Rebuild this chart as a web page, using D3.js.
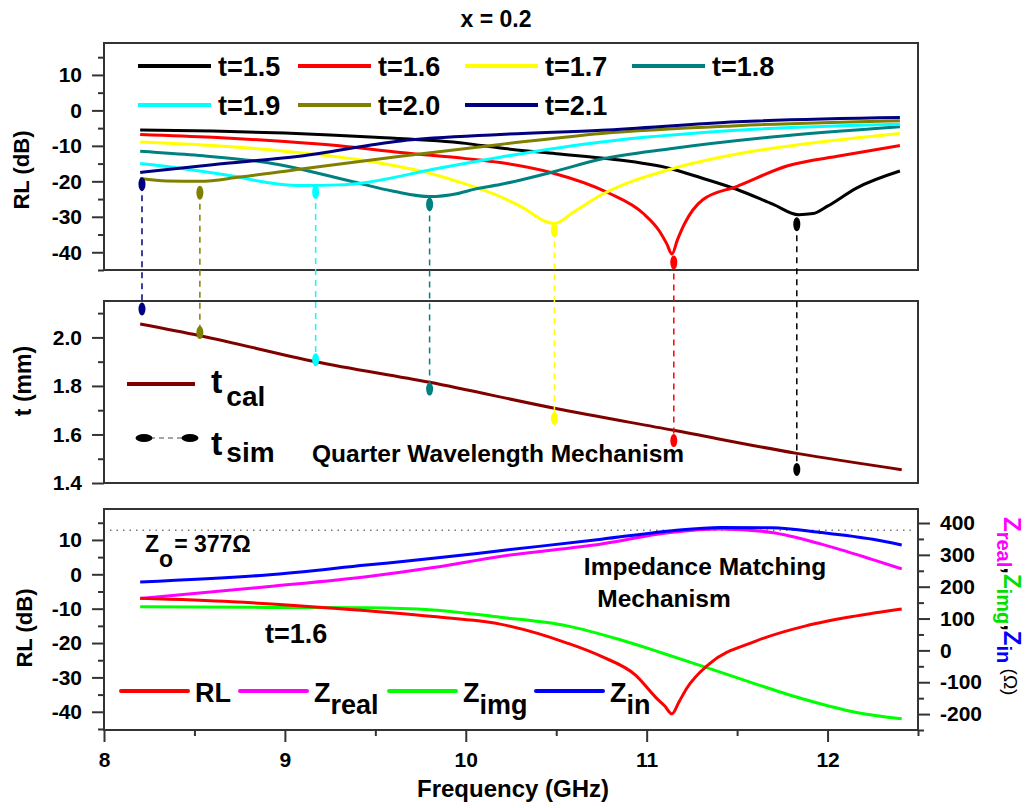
<!doctype html>
<html>
<head>
<meta charset="utf-8">
<script src="https://cdn.jsdelivr.net/npm/d3@7"></script>
<style>
  body { margin: 0; background: #fff; }
  svg text { font-family: Arial, "Liberation Sans", sans-serif; font-weight: bold; fill: #000; }
</style>
</head>
<body>
<svg id="chart" width="1030" height="808"></svg>
<script>

// ---------- data ----------
var thickLabels = ["t=1.5", "t=1.6", "t=1.7", "t=1.8", "t=1.9", "t=2.0", "t=2.1"];
var thickColors = ["#000000", "#ff0000", "#ffff00", "#008080", "#00ffff", "#808000", "#000080"];

// RL (dB) vs frequency (GHz) for each thickness
var rl15 = [[8.2,-5.5],[8.6,-5.8],[9,-6.4],[9.5,-7.6],[10,-9.3],[10.19,-10.6],[10.5,-12.2],[10.8,-13.7],
            [11.13,-16.4],[11.3,-19],[11.5,-22.3],[11.7,-26.5],[11.84,-29.4],[11.92,-29.1],[12,-27],[12.16,-21.9],[12.4,-17.1]];
var rl16 = [[8.2,-6.8],[8.6,-7.6],[9,-8.8],[9.3,-10],[9.64,-11.9],[10,-13.6],[10.19,-14.7],[10.47,-17.5],[10.79,-23.3],
            [10.98,-29],[11.07,-34],[11.11,-37.5],[11.14,-40.5],[11.17,-36.5],[11.21,-31.9],[11.31,-25.2],[11.5,-21.4],
            [11.78,-15.6],[12.07,-12.8],[12.4,-9.9]];
var rl17 = [[8.2,-8.9],[8.6,-9.9],[9,-11.5],[9.45,-14.2],[9.82,-18],[10,-20.8],[10.19,-24.3],[10.3,-27],[10.49,-31.9],
            [10.6,-28.5],[10.75,-23.8],[11.13,-16.6],[11.5,-12.3],[11.88,-9.4],[12.4,-6.5]];
var rl18 = [[8.2,-11.5],[8.5,-12.6],[8.9,-14.7],[9.36,-19.9],[9.6,-22.8],[9.8,-24.3],[9.95,-23.5],[10.05,-22.2],
            [10.19,-20.9],[10.47,-17.5],[10.75,-13.7],[11.13,-10.8],[11.69,-7.5],[12.4,-4.6]];
var rl19 = [[8.2,-15],[8.45,-16.5],[8.71,-18.5],[8.9,-20.3],[9.1,-21.2],[9.3,-21],[9.45,-20.3],[9.82,-16.6],
            [10.19,-13.2],[10.75,-8.9],[11.5,-5.6],[12.4,-3.9]];
var rl20 = [[8.2,-19.2],[8.35,-19.9],[8.53,-20],[8.75,-18.8],[9.08,-16.6],[9.64,-12.9],[10.19,-9.6],[10.75,-6.5],
            [11.5,-4.3],[12.4,-2.9]];
var rl21 = [[8.2,-17.5],[8.6,-15.3],[9.08,-12.9],[9.64,-8.6],[10.19,-6.8],[10.75,-5.6],[11.5,-3.2],[12.4,-2.0]];
var rlCurves = [rl15, rl16, rl17, rl18, rl19, rl20, rl21];

// dips (simulated matching thickness)
var dipFreq = [11.83, 11.15, 10.49, 9.80, 9.17, 8.53, 8.21];
var dipRL   = [-32.1, -42.9, -33.8, -26.5, -23.0, -23.2, -20.8];
var tSim    = [1.456, 1.575, 1.666, 1.787, 1.908, 2.02, 2.117];

// quarter wavelength thickness
var tCal = [[8.2,2.055],[8.53,2.007],[9.17,1.90],[9.80,1.815],[10.49,1.708],[11.15,1.617],[11.83,1.522],[12.41,1.455]];

// impedance matching, t = 1.6
var rlMatch = [[8.2,-7],[8.71,-8],[9.27,-9.9],[9.82,-12.3],[10.19,-14.5],[10.56,-20],[10.75,-23.9],[10.94,-29.4],
               [11.05,-35.8],[11.1,-38.3],[11.14,-40.6],[11.18,-37],[11.22,-33.3],[11.35,-25.9],[11.6,-19.5],
               [11.88,-15],[12.16,-12.1],[12.41,-10.1]];
var zReal = [[8.2,163],[8.9,200],[9.45,231],[9.82,260],[10.19,295],[10.75,334],[11.13,370],[11.41,381],[11.69,370],
             [11.97,333],[12.25,285],[12.41,256]];
var zImg  = [[8.2,137],[8.9,135],[9.45,134],[9.82,127],[10.19,104],[10.56,77],[10.85,34],[11.09,-9],[11.32,-52],
             [11.6,-105],[11.88,-155],[12.16,-195],[12.41,-215]];
var zIn   = [[8.2,215],[8.9,237],[9.45,268],[9.82,289],[10.19,313],[10.75,349],[11.13,375],[11.41,386],[11.69,385],
             [11.97,370],[12.25,349],[12.41,331]];
var z0 = 377;

var freqTicks = [8, 9, 10, 11, 12];
var rlTicks = [-40, -30, -20, -10, 0, 10];
var tTicks = [1.4, 1.6, 1.8, 2.0];
var zTicks = [-200, -100, 0, 100, 200, 300, 400];

// ---------- layout ----------
var svg = d3.select("#chart");
var L = 104, R = 918;

var x = d3.scaleLinear().domain([8, 12.5]).range([L, R]);
var yTop = d3.scaleLinear().domain([-45, 19]).range([270, 43]);
var yMid = d3.scaleLinear().domain([1.4, 2.15]).range([483, 301]);
var yBot = d3.scaleLinear().domain([-45.3, 19]).range([730, 509]);
var yImp = d3.scaleLinear().domain([-250, 444]).range([730, 509]);

function frame(y0, y1) {
  svg.append("rect").attr("x", L).attr("y", y0).attr("width", R - L).attr("height", y1 - y0)
    .attr("fill", "none").attr("stroke", "#333").attr("stroke-width", 2);
}

function styleAxis(g, size) {
  g.select(".domain").remove();
  g.selectAll("line").attr("stroke", "#333").attr("stroke-width", 2);
  g.selectAll("text").attr("font-size", size).attr("font-family", null);
}

function vAxis(axisFn, scale, xPos, majors, fmt) {
  var step = majors[1] - majors[0];
  var d = scale.domain();
  var minors = d3.range(majors[0] - step / 2, d[1] + 1e-9, step).filter(v => v >= d[0] - 1e-9);
  var gm = svg.append("g").attr("transform", "translate(" + xPos + ",0)")
    .call(axisFn(scale).tickValues(minors).tickSize(6).tickFormat(""));
  styleAxis(gm, 21);
  var g = svg.append("g").attr("transform", "translate(" + xPos + ",0)")
    .call(axisFn(scale).tickValues(majors).tickSize(12).tickPadding(10).tickFormat(fmt));
  styleAxis(g, 21);
}

var plain = d => String(d);

// ---------- top panel: RL vs frequency ----------
frame(43, 270);
vAxis(d3.axisLeft, yTop, L, rlTicks, plain);

var lineTop = d3.line().x(d => x(d[0])).y(d => yTop(d[1])).curve(d3.curveMonotoneX);
rlCurves.forEach(function (c, i) {
  svg.append("path").attr("d", lineTop(c)).attr("fill", "none")
    .attr("stroke", thickColors[i]).attr("stroke-width", 3);
});

// top legend
thickLabels.forEach(function (lab, i) {
  var cols = [138, 298, 465, 632], rows = [66, 105];
  var lx = cols[i % 4], ly = rows[Math.floor(i / 4)];
  svg.append("line").attr("x1", lx).attr("x2", lx + 73).attr("y1", ly).attr("y2", ly)
    .attr("stroke", thickColors[i]).attr("stroke-width", 4);
  svg.append("text").attr("x", lx + 80).attr("y", ly + 10).attr("font-size", 27).text(lab);
});

svg.append("text").attr("x", 496).attr("y", 27).attr("text-anchor", "middle")
  .attr("font-size", 23).text("x = 0.2");

svg.append("text").attr("transform", "translate(29,170) rotate(-90)").attr("text-anchor", "middle")
  .attr("font-size", 22).text("RL (dB)");

// ---------- middle panel: thickness ----------
frame(301, 483);
vAxis(d3.axisLeft, yMid, L, tTicks, d => d.toFixed(1));

var lineMid = d3.line().x(d => x(d[0])).y(d => yMid(d[1])).curve(d3.curveMonotoneX);
svg.append("path").attr("d", lineMid(tCal)).attr("fill", "none")
  .attr("stroke", "#800000").attr("stroke-width", 3);

// dashed drop lines and markers
dipFreq.forEach(function (f, i) {
  var c = thickColors[i];
  svg.append("line").attr("x1", x(f)).attr("x2", x(f))
    .attr("y1", yTop(dipRL[i])).attr("y2", yMid(tSim[i]))
    .attr("stroke", c).attr("stroke-width", 1.5).attr("stroke-dasharray", "6,5");
  svg.append("ellipse").attr("cx", x(f)).attr("cy", yTop(dipRL[i])).attr("rx", 3.5).attr("ry", 7).attr("fill", c);
  svg.append("ellipse").attr("cx", x(f)).attr("cy", yMid(tSim[i])).attr("rx", 3.5).attr("ry", 6.5).attr("fill", c);
});

// middle legend
svg.append("line").attr("x1", 127).attr("x2", 195).attr("y1", 384).attr("y2", 384)
  .attr("stroke", "#800000").attr("stroke-width", 4);
var tc = svg.append("text").attr("x", 211).attr("y", 393).attr("font-size", 34);
tc.append("tspan").text("t");
tc.append("tspan").attr("dx", 4).attr("dy", 13).attr("font-size", 28).text("cal");

svg.append("line").attr("x1", 150).attr("x2", 184).attr("y1", 438).attr("y2", 438)
  .attr("stroke", "#888").attr("stroke-width", 1.5).attr("stroke-dasharray", "5,4");
[144, 190].forEach(function (mx) {
  svg.append("ellipse").attr("cx", mx).attr("cy", 438).attr("rx", 8.5).attr("ry", 4).attr("fill", "#000");
});
var ts = svg.append("text").attr("x", 211).attr("y", 455).attr("font-size", 34);
ts.append("tspan").text("t");
ts.append("tspan").attr("dx", 4).attr("dy", 7).attr("font-size", 28).text("sim");

svg.append("text").attr("x", 312).attr("y", 462).attr("font-size", 24.5).text("Quarter Wavelength Mechanism");

svg.append("text").attr("transform", "translate(31,381) rotate(-90)").attr("text-anchor", "middle")
  .attr("font-size", 23).text("t (mm)");

// ---------- bottom panel: impedance matching ----------
frame(509, 730);
vAxis(d3.axisLeft, yBot, L, rlTicks, plain);
vAxis(d3.axisRight, yImp, R, zTicks, plain);

var xMinor = d3.range(8.5, 12.51, 1);
var gxm = svg.append("g").attr("transform", "translate(0,730)")
  .call(d3.axisBottom(x).tickValues(xMinor).tickSize(6).tickFormat(""));
styleAxis(gxm, 21);
var gx = svg.append("g").attr("transform", "translate(0,730)")
  .call(d3.axisBottom(x).tickValues(freqTicks).tickSize(12).tickPadding(10).tickFormat(plain));
styleAxis(gx, 21);

svg.append("line").attr("x1", L + 6).attr("x2", R - 2).attr("y1", yImp(z0)).attr("y2", yImp(z0))
  .attr("stroke", "#777").attr("stroke-width", 1.5).attr("stroke-dasharray", "1.5,5");

var lineRL = d3.line().x(d => x(d[0])).y(d => yBot(d[1])).curve(d3.curveMonotoneX);
var lineZ = d3.line().x(d => x(d[0])).y(d => yImp(d[1])).curve(d3.curveMonotoneX);
var botSeries = [
  { data: zImg, gen: lineZ, color: "#00ff00" },
  { data: zReal, gen: lineZ, color: "#ff00ff" },
  { data: zIn, gen: lineZ, color: "#0000ff" },
  { data: rlMatch, gen: lineRL, color: "#ff0000" }
];
botSeries.forEach(function (s) {
  svg.append("path").attr("d", s.gen(s.data)).attr("fill", "none")
    .attr("stroke", s.color).attr("stroke-width", 3);
});

// Z0 label
var zo = svg.append("text").attr("x", 145).attr("y", 552).attr("font-size", 23);
zo.append("tspan").text("Z");
zo.append("tspan").attr("dy", 15).text("o");
zo.append("tspan").attr("dy", -15).attr("dx", 1).text("= 377\u03A9");

svg.append("text").attr("x", 265).attr("y", 643).attr("font-size", 27).text("t=1.6");

svg.append("text").attr("x", 705).attr("y", 575).attr("text-anchor", "middle").attr("font-size", 24.5)
  .text("Impedance Matching");
svg.append("text").attr("x", 664).attr("y", 607).attr("text-anchor", "middle").attr("font-size", 24.5)
  .text("Mechanism");

// bottom legend
var legItems = [
  { main: "RL", sub: "", color: "#ff0000", lx: 121 },
  { main: "Z", sub: "real", color: "#ff00ff", lx: 240 },
  { main: "Z", sub: "img", color: "#00ff00", lx: 389 },
  { main: "Z", sub: "in", color: "#0000ff", lx: 536 }
];
legItems.forEach(function (it) {
  svg.append("line").attr("x1", it.lx).attr("x2", it.lx + 67).attr("y1", 691).attr("y2", 691)
    .attr("stroke", it.color).attr("stroke-width", 4).attr("stroke-linecap", "round");
  var t = svg.append("text").attr("x", it.lx + 74).attr("y", 702).attr("font-size", 27);
  t.append("tspan").text(it.main);
  if (it.sub) t.append("tspan").attr("dy", 12).text(it.sub);
});

svg.append("text").attr("transform", "translate(32,628) rotate(-90)").attr("text-anchor", "middle")
  .attr("font-size", 22).text("RL (dB)");

// right axis title
var rt = svg.append("text").attr("transform", "translate(1004,517) rotate(90)").attr("font-size", 24);
[["Z", "#ff00ff", 0, 24], ["real", "#ff00ff", 7, 20], [",", "#000", -7, 24],
 ["Z", "#00e000", 0, 24], ["img", "#00e000", 7, 20], [",", "#000", -7, 24],
 ["Z", "#0000ff", 0, 24], ["in", "#0000ff", 7, 20]].forEach(function (p) {
  rt.append("tspan").attr("fill", p[1]).attr("dy", p[2]).attr("font-size", p[3]).text(p[0]);
});
rt.append("tspan").attr("dy", -7).attr("font-size", 19).attr("font-weight", "normal").text(" (\u03A9)");

svg.append("text").attr("x", 513).attr("y", 797).attr("text-anchor", "middle")
  .attr("font-size", 24).text("Frequency (GHz)");

</script>
</body>
</html>
